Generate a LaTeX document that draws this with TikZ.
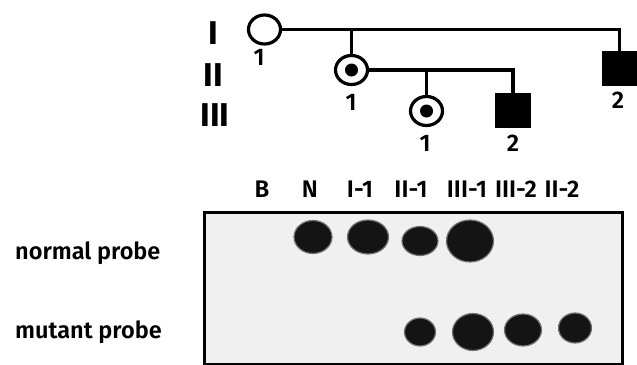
\documentclass[tikz,border=0pt]{standalone}
\usepackage{fontspec}
\setmainfont{Fira Sans}[UprightFont=* SemiBold, BoldFont=* Bold]
\usetikzlibrary{shapes.geometric}
\tikzset{
  ped/.style={line width=3.2pt},
  female/.style={ped,draw,ellipse,minimum width=32pt,minimum height=29pt,inner sep=0pt,fill=white},
  male/.style={ped,draw,fill=black,rectangle,minimum width=32pt,minimum height=32pt,inner sep=0pt},
  carrier/.style={fill=black,circle,minimum size=13pt,inner sep=0pt},
  gen/.style={font=\fontsize{33}{34}\selectfont\bfseries,inner sep=0pt},
  num/.style={font=\fontsize{24}{25}\selectfont,inner sep=0pt},
  lane/.style={font=\fontsize{24}{25}\selectfont,inner sep=0pt},
  probe/.style={font=\fontsize{23.5}{25}\selectfont,inner sep=0pt,anchor=west},
  spot/.style={ellipse,fill=black!92,draw=black!55,line width=1.2pt,inner sep=0pt},
}
\begin{document}
\begin{tikzpicture}[x=1pt,y=-1pt]
\useasboundingbox (0,0) rectangle (637,364);
% generation labels
\node[gen] (gI) at (213,33) {I};
\node[gen] (gII) at (213,75) {II};
\node[gen] (gIII) at (215,115) {III};
% pedigree symbols
\node[female] (I1) at (264.5,29.5) {};
\node[female] (II1) at (351.5,70) {};
\node[carrier] (II1c) at (II1.center) {};
\node[female] (III1) at (426.5,111) {};
\node[carrier] (III1c) at (III1.center) {};
\node[male] (III2) at (513,110.5) {};
\node[male] (II2) at (619.5,68.5) {};
% connectors
\draw[ped] (I1.east) -| (II2.north);
\coordinate (d1) at (II1.north |- I1.east);
\draw[ped] (d1) -- (II1.north);
\draw[ped] (II1.east) -| (III2.north);
\coordinate (d2) at (III1.north |- II1.east);
\draw[ped] (d2) -- (III1.north);
% individual numbers
\node[num] (nI1) at (259,57) {1};
\node[num] (nII1) at (351,102) {1};
\node[num] (nIII1) at (425,143) {1};
\node[num] (nIII2) at (513,143) {2};
\node[num] (nII2) at (618,100) {2};
% dot blot
\node[draw,line width=2.6pt,fill=black!6,minimum width=418pt,minimum height=152pt,inner sep=0pt,anchor=north west] (blot) at (203,211) {};
\node[lane] (lB) at (262,189) {B};
\node[lane] (lN) at (310,189) {N};
\node[lane] (lI1) at (360,189) {I-1};
\node[lane] (lII1) at (411,189) {II-1};
\node[lane] (lIII1) at (467,189) {III-1};
\node[lane] (lIII2) at (516,189) {III-2};
\node[lane] (lII2) at (562,189) {II-2};
\node[probe] (pn) at (15,253) {normal probe};
\node[probe] (pm) at (15,332) {mutant probe};
% normal probe spots
\node[spot,minimum width=38pt,minimum height=33pt] (sN) at (313,237) {};
\node[spot,minimum width=41pt,minimum height=34pt] (sI1) at (368,237) {};
\node[spot,minimum width=36pt,minimum height=29pt] (sII1) at (420,241) {};
\node[spot,minimum width=47pt,minimum height=42pt] (sIII1) at (470,241) {};
% mutant probe spots
\node[spot,minimum width=31pt,minimum height=28pt] (mII1) at (420,332) {};
\node[spot,minimum width=41pt,minimum height=37pt] (mIII1) at (473,332) {};
\node[spot,minimum width=37pt,minimum height=32pt] (mIII2) at (523,330) {};
\node[spot,minimum width=33pt,minimum height=30pt] (mII2) at (575,328) {};
\end{tikzpicture}
\end{document}
